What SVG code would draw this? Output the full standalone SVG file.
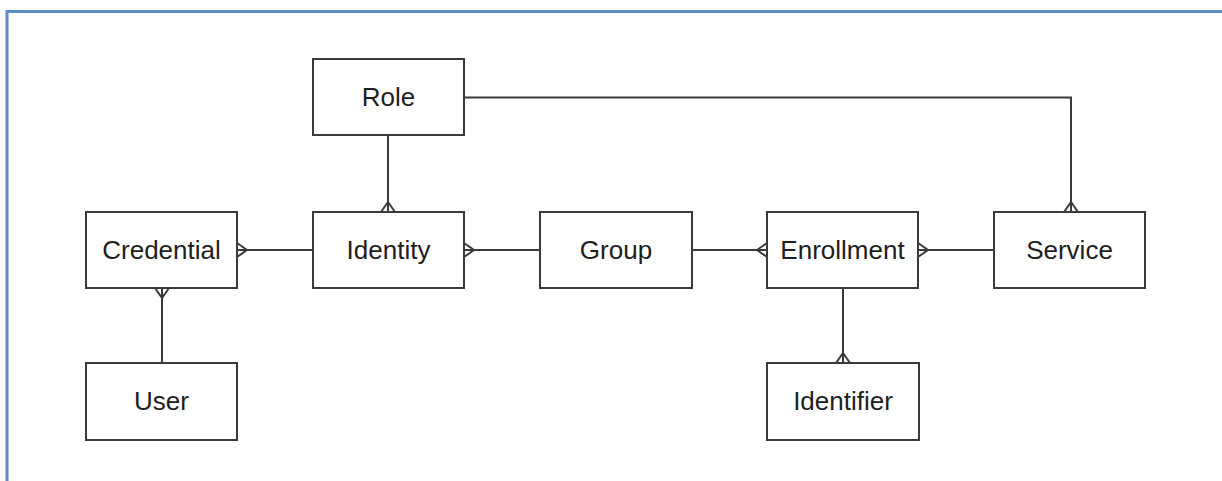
<svg xmlns="http://www.w3.org/2000/svg" width="1222" height="481" viewBox="0 0 1222 481">
  <style>
    .frame { fill: none; stroke: #5b8cc8; stroke-width: 3; }
    .box { fill: #ffffff; stroke: #3a3a3a; stroke-width: 2; }
    .lbl { font-family: "Liberation Sans", Arial, sans-serif; font-size: 26px; fill: #1e1e1e; text-anchor: middle; }
    .conn { fill: none; stroke: #3a3a3a; stroke-width: 2; }
  </style>
  <rect width="1222" height="481" fill="#ffffff"/>
  <!-- page frame: top and left edges -->
  <path class="frame" d="M7,481 V11.5 H1222"/>

  <!-- relationships (crow's foot on the many side) -->
  <g id="connectors">
    <!-- Credential >— Identity -->
    <path class="conn" d="M237,250 H313"/>
    <path class="conn" d="M237,243 L247,250 L237,257"/>
    <!-- Identity >— Group -->
    <path class="conn" d="M464,250 H540"/>
    <path class="conn" d="M464,243 L474,250 L464,257"/>
    <!-- Group —< Enrollment -->
    <path class="conn" d="M692,250 H767"/>
    <path class="conn" d="M767,243 L757,250 L767,257"/>
    <!-- Enrollment >— Service -->
    <path class="conn" d="M918,250 H994"/>
    <path class="conn" d="M918,243 L928,250 L918,257"/>
    <!-- Credential (many) — User -->
    <path class="conn" d="M162,288 V363"/>
    <path class="conn" d="M155,288 L162,298 L169,288"/>
    <!-- Role — Identity (many) -->
    <path class="conn" d="M388,135 V212"/>
    <path class="conn" d="M381,212 L388,202 L395,212"/>
    <!-- Enrollment — Identifier (many) -->
    <path class="conn" d="M843,288 V363"/>
    <path class="conn" d="M836,363 L843,353 L850,363"/>
    <!-- Role — Service (many) -->
    <path class="conn" d="M464,97.5 H1071 V212"/>
    <path class="conn" d="M1064,212 L1071,202 L1078,212"/>
  </g>

  <g id="role">
    <rect class="box" x="313" y="59" width="151" height="76"/>
    <text class="lbl" x="388.5" y="106">Role</text>
  </g>
  <g id="credential">
    <rect class="box" x="86" y="212" width="151" height="76"/>
    <text class="lbl" x="161.5" y="259">Credential</text>
  </g>
  <g id="identity">
    <rect class="box" x="313" y="212" width="151" height="76"/>
    <text class="lbl" x="388.5" y="259">Identity</text>
  </g>
  <g id="group">
    <rect class="box" x="540" y="212" width="152" height="76"/>
    <text class="lbl" x="616" y="259">Group</text>
  </g>
  <g id="enrollment">
    <rect class="box" x="767" y="212" width="151" height="76"/>
    <text class="lbl" x="842.5" y="259">Enrollment</text>
  </g>
  <g id="service">
    <rect class="box" x="994" y="212" width="151" height="76"/>
    <text class="lbl" x="1069.5" y="259">Service</text>
  </g>
  <g id="user">
    <rect class="box" x="86" y="363" width="151" height="77"/>
    <text class="lbl" x="161.5" y="410">User</text>
  </g>
  <g id="identifier">
    <rect class="box" x="767" y="363" width="152" height="77"/>
    <text class="lbl" x="843" y="410">Identifier</text>
  </g>
</svg>
